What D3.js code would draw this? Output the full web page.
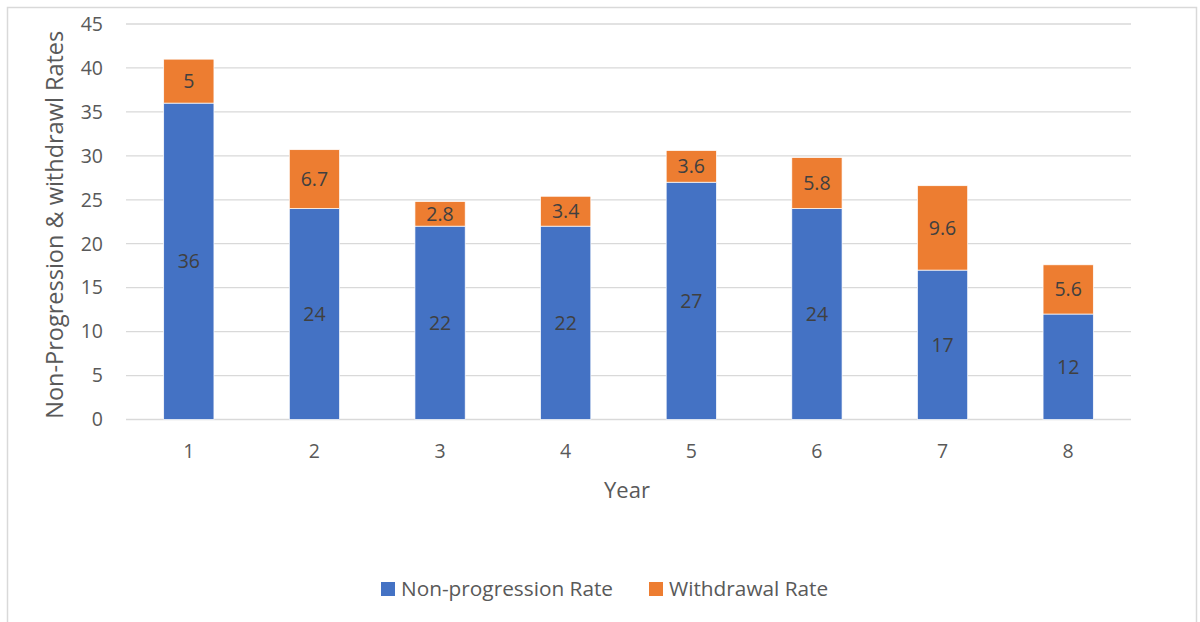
<!DOCTYPE html>
<html>
<head>
<meta charset="utf-8">
<script src="https://cdn.jsdelivr.net/npm/d3@7"></script>
<style>
  html, body { margin: 0; padding: 0; background: #fff; }
  svg { display: block; }
  text { font-family: "Open Sans", "Liberation Sans", sans-serif; }
</style>
</head>
<body>
<svg id="chart" width="1200" height="622"></svg>
<script>
// Year categories and the two stacked series
const years = ["1", "2", "3", "4", "5", "6", "7", "8"];
const nonProgression = [36, 24, 22, 22, 27, 24, 17, 12];
const withdrawal = [5, 6.7, 2.8, 3.4, 3.6, 5.8, 9.6, 5.6];
const yTicks = [0, 5, 10, 15, 20, 25, 30, 35, 40, 45];
const seriesNames = ["Non-progression Rate", "Withdrawal Rate"];
const seriesColors = ["#4472C4", "#ED7D31"];

const svg = d3.select("#chart");

// outer chart border
svg.append("rect")
  .attr("x", 7.5).attr("y", 7.5)
  .attr("width", 1189).attr("height", 640)
  .attr("fill", "none")
  .attr("stroke", "#d9d9d9")
  .attr("stroke-width", 1.5);

const plot = { left: 126, right: 1131, top: 24, bottom: 419.5 };

const x = d3.scaleBand()
  .domain(years)
  .range([plot.left, plot.right])
  .padding(0);

const y = d3.scaleLinear()
  .domain([0, 45])
  .range([plot.bottom, plot.top]);

const barW = x.bandwidth() * 0.4;

// horizontal gridlines
svg.append("g")
  .selectAll("line")
  .data(yTicks)
  .join("line")
  .attr("x1", plot.left).attr("x2", plot.right)
  .attr("y1", d => y(d)).attr("y2", d => y(d))
  .attr("stroke", "#d9d9d9")
  .attr("stroke-width", 1.3);

// y tick labels
svg.append("g")
  .selectAll("text")
  .data(yTicks)
  .join("text")
  .attr("x", 103)
  .attr("y", d => y(d))
  .attr("dy", "0.35em")
  .attr("text-anchor", "end")
  .attr("font-size", 19.5)
  .attr("fill", "#595959")
  .text(d => d);

// stacked data
const rows = years.map((yr, i) => ({ year: yr, np: nonProgression[i], wd: withdrawal[i] }));
const stack = d3.stack().keys(["np", "wd"])(rows);

const layers = svg.append("g")
  .selectAll("g")
  .data(stack)
  .join("g")
  .attr("fill", (d, i) => seriesColors[i]);

layers.selectAll("rect")
  .data(d => d)
  .join("rect")
  .attr("x", d => x(d.data.year) + (x.bandwidth() - barW) / 2)
  .attr("y", d => y(d[1]))
  .attr("width", barW)
  .attr("height", d => y(d[0]) - y(d[1]))
  .attr("stroke", "#ffffff")
  .attr("stroke-width", 0.7);

// value labels centred in each segment
layers.selectAll("text")
  .data((d, i) => d.map(v => ({ v, key: stack[i].key })))
  .join("text")
  .attr("x", d => x(d.v.data.year) + x.bandwidth() / 2)
  .attr("y", d => (y(d.v[0]) + y(d.v[1])) / 2)
  .attr("dy", "0.35em")
  .attr("text-anchor", "middle")
  .attr("font-size", 19.5)
  .attr("fill", "#404040")
  .text(d => d.v.data[d.key]);

// x tick labels
svg.append("g")
  .selectAll("text")
  .data(years)
  .join("text")
  .attr("x", d => x(d) + x.bandwidth() / 2)
  .attr("y", 451)
  .attr("dy", "0.35em")
  .attr("text-anchor", "middle")
  .attr("font-size", 19.5)
  .attr("fill", "#595959")
  .text(d => d);

// axis titles
svg.append("text")
  .attr("x", 627)
  .attr("y", 490)
  .attr("dy", "0.35em")
  .attr("text-anchor", "middle")
  .attr("font-size", 22)
  .attr("fill", "#595959")
  .text("Year");

svg.append("text")
  .attr("transform", `translate(55, ${(plot.top + plot.bottom) / 2 + 3}) rotate(-90)`)
  .attr("dy", "0.35em")
  .attr("text-anchor", "middle")
  .attr("font-size", 23.5)
  .attr("fill", "#595959")
  .text("Non-Progression & withdrawl Rates");

// legend
const legendItems = [
  { name: seriesNames[0], color: seriesColors[0], x: 381 },
  { name: seriesNames[1], color: seriesColors[1], x: 649 }
];
const lg = svg.append("g")
  .selectAll("g")
  .data(legendItems)
  .join("g")
  .attr("transform", d => `translate(${d.x}, 589)`);
lg.append("rect")
  .attr("x", 0).attr("y", -7)
  .attr("width", 14).attr("height", 14)
  .attr("fill", d => d.color);
lg.append("text")
  .attr("x", 20)
  .attr("y", 0)
  .attr("dy", "0.35em")
  .attr("font-size", 20.8)
  .attr("fill", "#595959")
  .text(d => d.name);
</script>
</body>
</html>
